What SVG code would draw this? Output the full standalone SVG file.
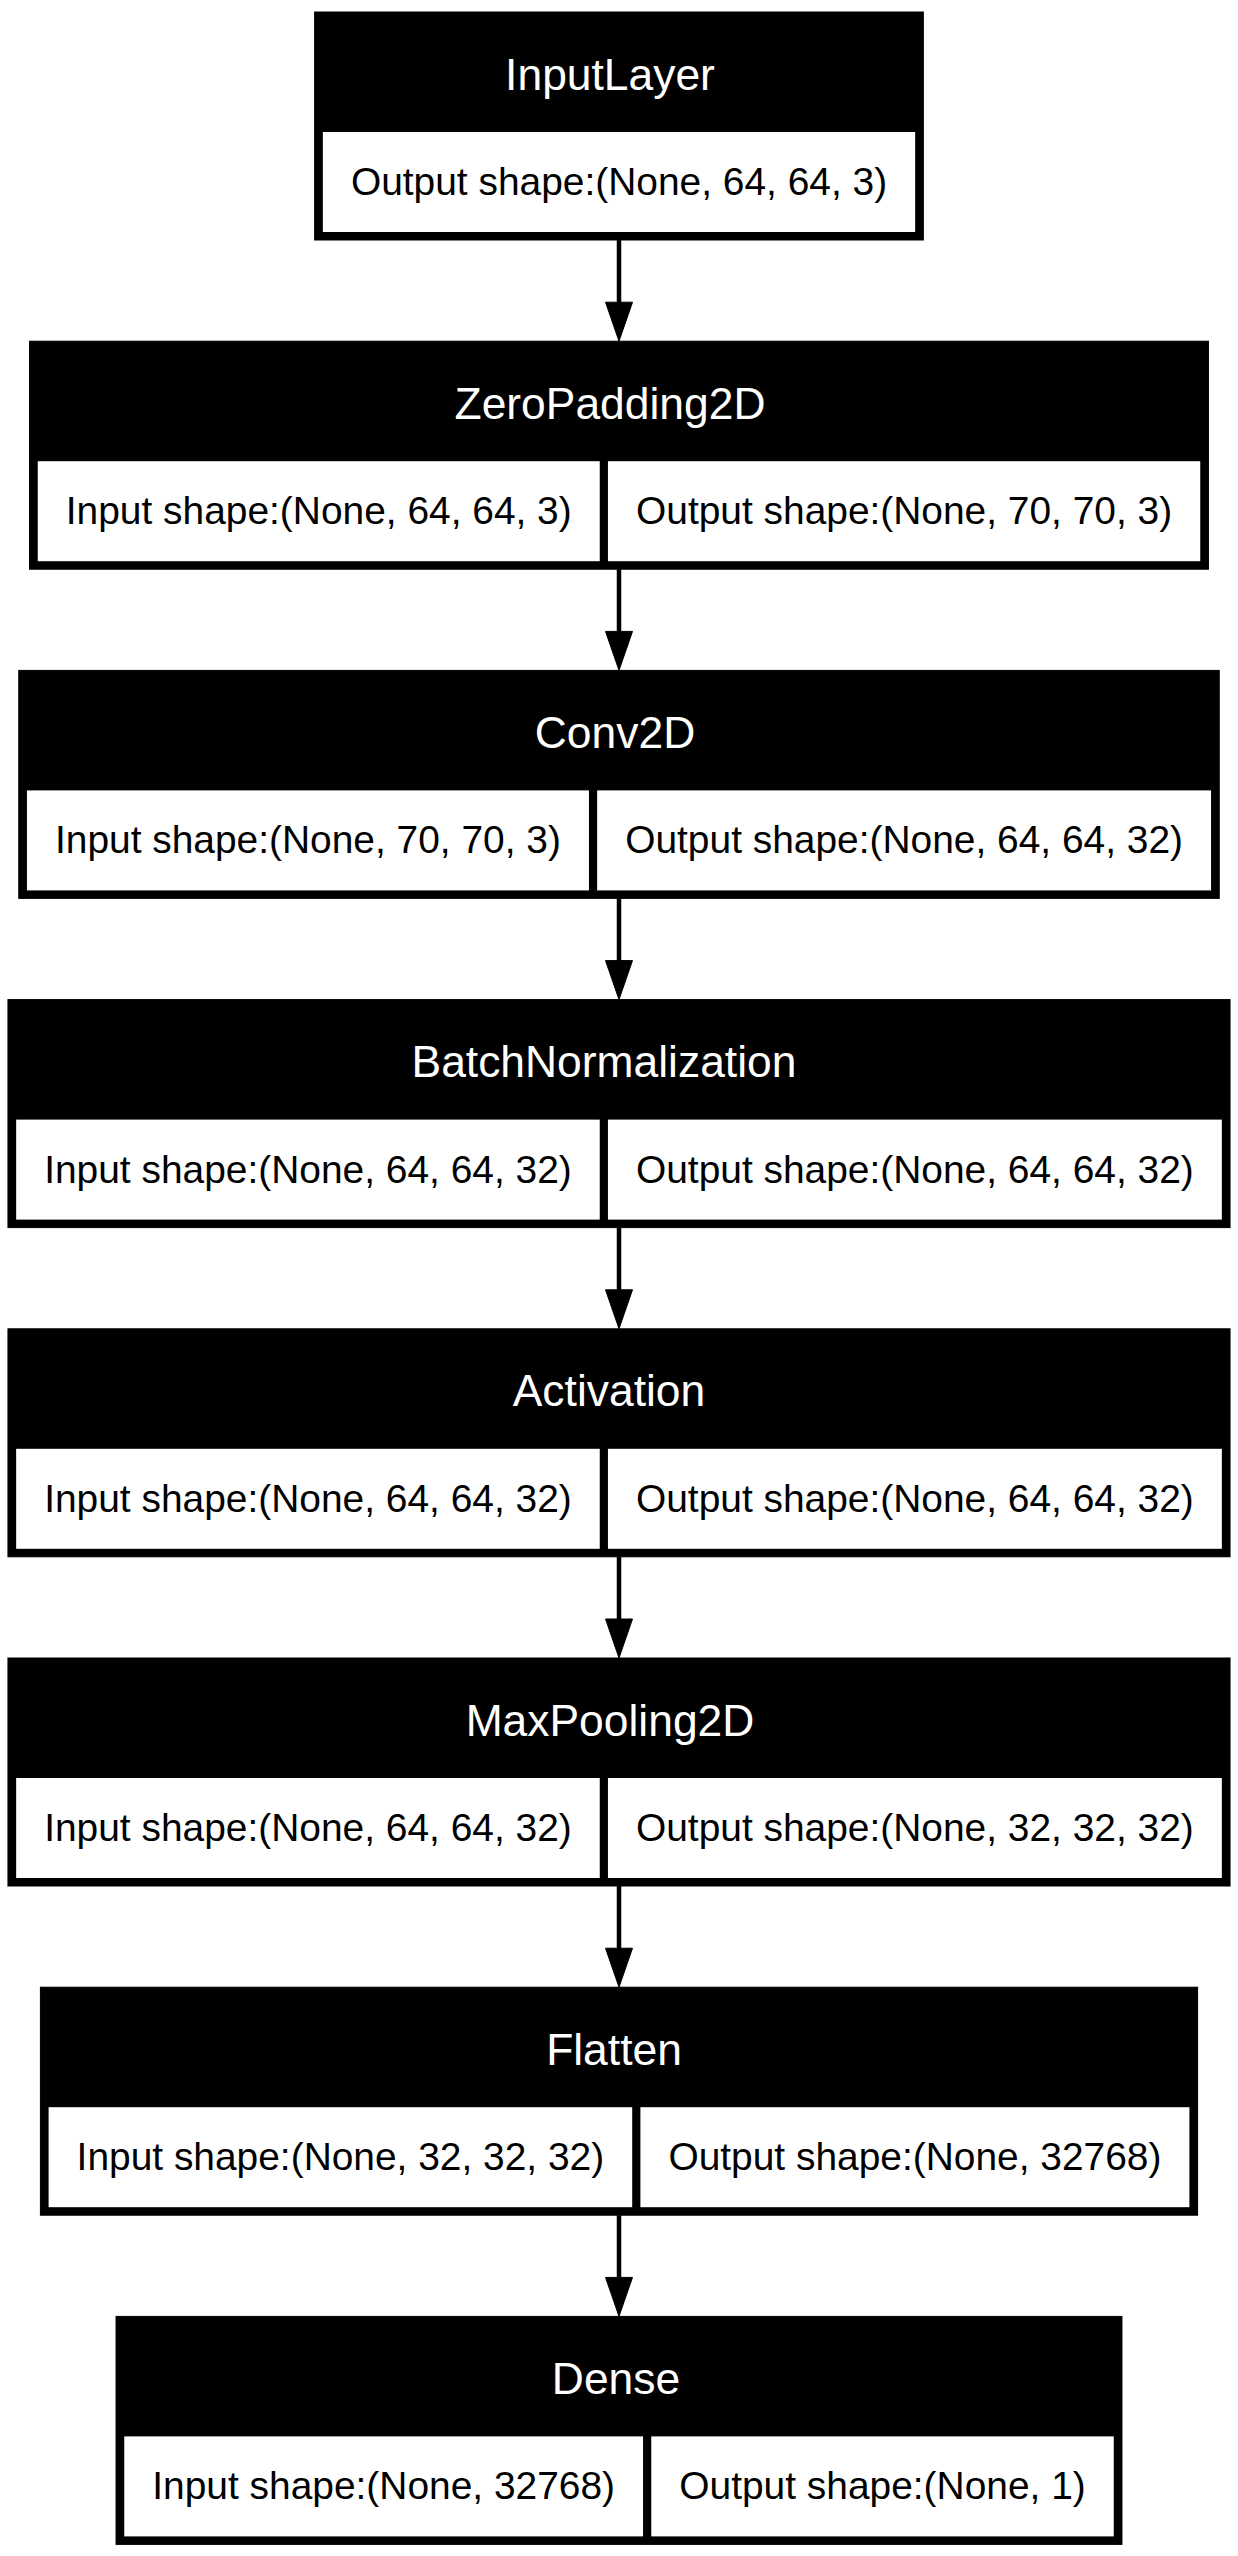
<svg xmlns="http://www.w3.org/2000/svg" width="1238" height="2556" viewBox="0 0 1238 2556">
<style>
.box{fill:#000;stroke:#000;stroke-width:1}
.cell{fill:#fff}
.title{font-family:"Liberation Sans",Arial,Helvetica,sans-serif;font-size:44.4px;fill:#fff;text-anchor:middle}
.txt{font-family:"Liberation Sans",Arial,Helvetica,sans-serif;font-size:38.9px;fill:#000;text-anchor:middle}
.edge{stroke:#000;stroke-width:4.5;fill:none}
.head{fill:#000;stroke:#000;stroke-width:1}
</style>
<rect width="1238" height="2556" fill="#fff"/>
<g id="connectors">
<line class="edge" x1="619" y1="240" x2="619" y2="304"/><polygon class="head" points="605.5,302.2 632.5,302.2 619,341.2"/>
<line class="edge" x1="619" y1="569.2" x2="619" y2="633"/><polygon class="head" points="605.5,631.4 632.5,631.4 619,670.4"/>
<line class="edge" x1="619" y1="898.4" x2="619" y2="962"/><polygon class="head" points="605.5,960.6 632.5,960.6 619,999.6"/>
<line class="edge" x1="619" y1="1227.6" x2="619" y2="1291"/><polygon class="head" points="605.5,1289.8 632.5,1289.8 619,1328.8"/>
<line class="edge" x1="619" y1="1556.8" x2="619" y2="1620"/><polygon class="head" points="605.5,1619 632.5,1619 619,1658"/>
<line class="edge" x1="619" y1="1886" x2="619" y2="1950"/><polygon class="head" points="605.5,1948.2 632.5,1948.2 619,1987.2"/>
<line class="edge" x1="619" y1="2215.2" x2="619" y2="2279"/><polygon class="head" points="605.5,2277.4 632.5,2277.4 619,2316.4"/>
</g>
<g id="node-inputlayer">
<rect class="box" x="314.65" y="12" width="608.7" height="228"/>
<text class="title" x="610" y="89.5">InputLayer</text>
<rect class="cell" x="322.85" y="132" width="592.3" height="100"/>
<text class="txt" x="619" y="195">Output shape:(None, 64, 64, 3)</text>
</g>
<g id="node-zeropadding2d">
<rect class="box" x="29.55" y="341.2" width="1178.9" height="228"/>
<text class="title" x="610" y="418.7">ZeroPadding2D</text>
<rect class="cell" x="37.75" y="461.2" width="562" height="100"/>
<rect class="cell" x="607.95" y="461.2" width="592.3" height="100"/>
<text class="txt" x="318.75" y="524.2">Input shape:(None, 64, 64, 3)</text>
<text class="txt" x="904.1" y="524.2">Output shape:(None, 70, 70, 3)</text>
</g>
<g id="node-conv2d">
<rect class="box" x="18.75" y="670.4" width="1200.5" height="228"/>
<text class="title" x="615" y="747.9">Conv2D</text>
<rect class="cell" x="26.95" y="790.4" width="562" height="100"/>
<rect class="cell" x="597.15" y="790.4" width="613.9" height="100"/>
<text class="txt" x="307.95" y="853.4">Input shape:(None, 70, 70, 3)</text>
<text class="txt" x="904.1" y="853.4">Output shape:(None, 64, 64, 32)</text>
</g>
<g id="node-batchnormalization">
<rect class="box" x="7.95" y="999.6" width="1222.1" height="228"/>
<text class="title" x="604" y="1077.1">BatchNormalization</text>
<rect class="cell" x="16.15" y="1119.6" width="583.6" height="100"/>
<rect class="cell" x="607.95" y="1119.6" width="613.9" height="100"/>
<text class="txt" x="307.95" y="1182.6">Input shape:(None, 64, 64, 32)</text>
<text class="txt" x="914.9" y="1182.6">Output shape:(None, 64, 64, 32)</text>
</g>
<g id="node-activation">
<rect class="box" x="7.95" y="1328.8" width="1222.1" height="228"/>
<text class="title" x="609" y="1406.3">Activation</text>
<rect class="cell" x="16.15" y="1448.8" width="583.6" height="100"/>
<rect class="cell" x="607.95" y="1448.8" width="613.9" height="100"/>
<text class="txt" x="307.95" y="1511.8">Input shape:(None, 64, 64, 32)</text>
<text class="txt" x="914.9" y="1511.8">Output shape:(None, 64, 64, 32)</text>
</g>
<g id="node-maxpooling2d">
<rect class="box" x="7.95" y="1658" width="1222.1" height="228"/>
<text class="title" x="610" y="1735.5">MaxPooling2D</text>
<rect class="cell" x="16.15" y="1778" width="583.6" height="100"/>
<rect class="cell" x="607.95" y="1778" width="613.9" height="100"/>
<text class="txt" x="307.95" y="1841">Input shape:(None, 64, 64, 32)</text>
<text class="txt" x="914.9" y="1841">Output shape:(None, 32, 32, 32)</text>
</g>
<g id="node-flatten">
<rect class="box" x="40.4" y="1987.2" width="1157.2" height="228"/>
<text class="title" x="614" y="2064.7">Flatten</text>
<rect class="cell" x="48.6" y="2107.2" width="583.6" height="100"/>
<rect class="cell" x="640.4" y="2107.2" width="549" height="100"/>
<text class="txt" x="340.4" y="2170.2">Input shape:(None, 32, 32, 32)</text>
<text class="txt" x="914.9" y="2170.2">Output shape:(None, 32768)</text>
</g>
<g id="node-dense">
<rect class="box" x="116.05" y="2316.4" width="1005.9" height="228"/>
<text class="title" x="616" y="2393.9">Dense</text>
<rect class="cell" x="124.25" y="2436.4" width="518.8" height="100"/>
<rect class="cell" x="651.25" y="2436.4" width="462.5" height="100"/>
<text class="txt" x="383.65" y="2499.4">Input shape:(None, 32768)</text>
<text class="txt" x="882.5" y="2499.4">Output shape:(None, 1)</text>
</g>
</svg>
